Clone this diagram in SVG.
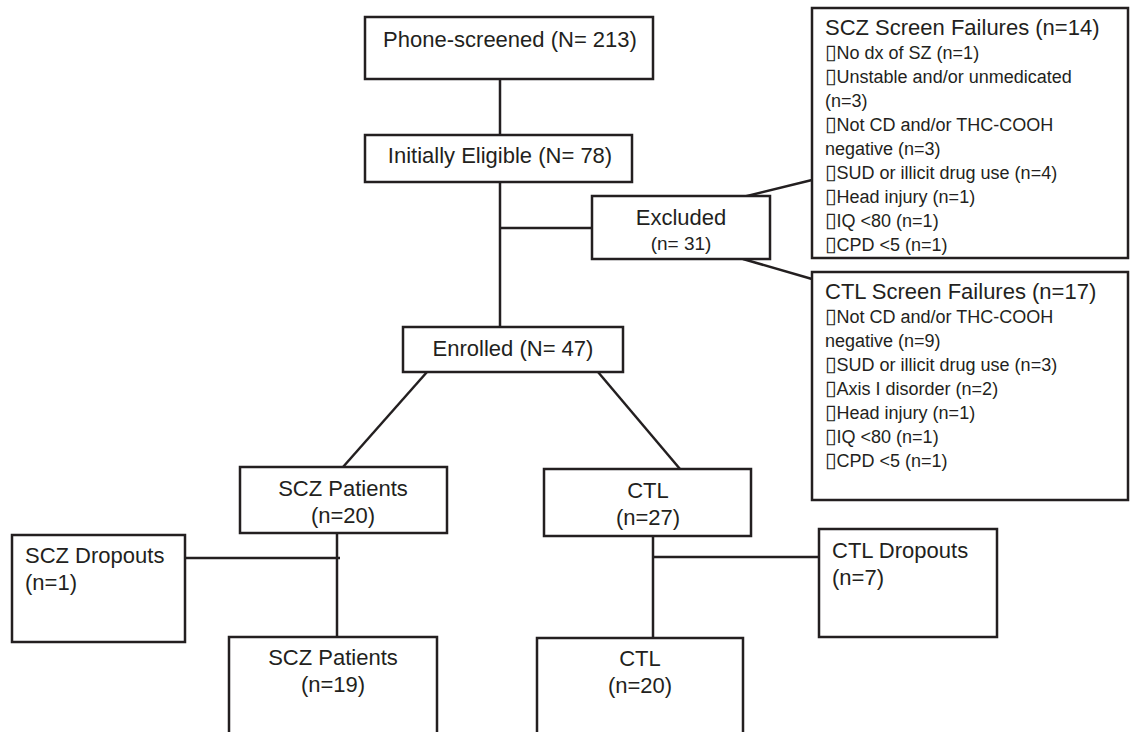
<svg xmlns="http://www.w3.org/2000/svg" width="1130" height="732" viewBox="0 0 1130 732">
<style>
.box{fill:#fff;stroke:#231f20;stroke-width:2.5}
.open{fill:none;stroke:#231f20;stroke-width:2.5}
.ln{stroke:#231f20;stroke-width:2.5;fill:none}
text{font-family:"Liberation Sans",Arial,sans-serif;fill:#231f20}
.t22{font-size:22px}
.t19{font-size:19px}
.t18{font-size:18px}
.mid{text-anchor:middle}
.b{font-family:"DejaVu Sans",sans-serif;font-size:21px}
</style>
<rect width="1130" height="732" fill="#fff"/>
<g id="connectors">
<line class="ln" x1="500" y1="79" x2="500" y2="135"/>
<line class="ln" x1="500" y1="182" x2="500" y2="327"/>
<line class="ln" x1="500" y1="228" x2="592" y2="228"/>
<line class="ln" x1="743" y1="197" x2="812" y2="180"/>
<line class="ln" x1="743" y1="259" x2="812" y2="279"/>
<line class="ln" x1="427" y1="372" x2="343" y2="467"/>
<line class="ln" x1="598" y1="372" x2="680" y2="469"/>
<line class="ln" x1="337" y1="533" x2="337" y2="637"/>
<line class="ln" x1="185" y1="558" x2="340" y2="558"/>
<line class="ln" x1="653" y1="536" x2="653" y2="638"/>
<line class="ln" x1="653" y1="557" x2="819" y2="557"/>
</g>
<g id="phone">
<rect class="box" x="365" y="17" width="288" height="62"/>
<text class="t22 mid" x="510" y="47">Phone-screened (N= 213)</text>
</g>
<g id="eligible">
<rect class="box" x="365" y="135" width="267" height="47"/>
<text class="t22 mid" x="500" y="163">Initially Eligible (N= 78)</text>
</g>
<g id="excluded">
<rect class="box" x="592" y="196" width="178" height="63"/>
<text class="t22 mid" x="681" y="225">Excluded</text>
<text class="t19 mid" x="681" y="250">(n= 31)</text>
</g>
<g id="scz-failures">
<rect class="box" x="812" y="8" width="316" height="250"/>
<text class="t22" x="825" y="35">SCZ Screen Failures (n=14)</text>
<text class="t18" x="825" y="59"><tspan class="b">▯</tspan>No dx of SZ (n=1)</text>
<text class="t18" x="825" y="83"><tspan class="b">▯</tspan>Unstable and/or unmedicated</text>
<text class="t18" x="825" y="107">(n=3)</text>
<text class="t18" x="825" y="131"><tspan class="b">▯</tspan>Not CD and/or THC-COOH</text>
<text class="t18" x="825" y="155">negative (n=3)</text>
<text class="t18" x="825" y="179"><tspan class="b">▯</tspan>SUD or illicit drug use (n=4)</text>
<text class="t18" x="825" y="203"><tspan class="b">▯</tspan>Head injury (n=1)</text>
<text class="t18" x="825" y="227"><tspan class="b">▯</tspan>IQ &lt;80 (n=1)</text>
<text class="t18" x="825" y="251"><tspan class="b">▯</tspan>CPD &lt;5 (n=1)</text>
</g>
<g id="ctl-failures">
<rect class="box" x="812" y="272" width="316" height="228"/>
<text class="t22" x="825" y="299">CTL Screen Failures (n=17)</text>
<text class="t18" x="825" y="323"><tspan class="b">▯</tspan>Not CD and/or THC-COOH</text>
<text class="t18" x="825" y="347">negative (n=9)</text>
<text class="t18" x="825" y="371"><tspan class="b">▯</tspan>SUD or illicit drug use (n=3)</text>
<text class="t18" x="825" y="395"><tspan class="b">▯</tspan>Axis I disorder (n=2)</text>
<text class="t18" x="825" y="419"><tspan class="b">▯</tspan>Head injury (n=1)</text>
<text class="t18" x="825" y="443"><tspan class="b">▯</tspan>IQ &lt;80 (n=1)</text>
<text class="t18" x="825" y="467"><tspan class="b">▯</tspan>CPD &lt;5 (n=1)</text>
</g>
<g id="enrolled">
<rect class="box" x="403" y="327" width="220" height="45"/>
<text class="t22 mid" x="513" y="356">Enrolled (N= 47)</text>
</g>
<g id="scz-patients">
<rect class="box" x="240" y="467" width="207" height="66"/>
<text class="t22 mid" x="343" y="496">SCZ Patients</text>
<text class="t22 mid" x="343" y="523">(n=20)</text>
</g>
<g id="ctl">
<rect class="box" x="544" y="469" width="207" height="67"/>
<text class="t22 mid" x="648" y="498">CTL</text>
<text class="t22 mid" x="648" y="525">(n=27)</text>
</g>
<g id="scz-dropouts">
<rect class="box" x="12" y="535" width="173" height="107"/>
<text class="t22" x="25" y="563">SCZ Dropouts</text>
<text class="t22" x="25" y="590">(n=1)</text>
</g>
<g id="ctl-dropouts">
<rect class="box" x="819" y="529" width="178" height="108"/>
<text class="t22" x="832" y="558">CTL Dropouts</text>
<text class="t22" x="832" y="585">(n=7)</text>
</g>
<g id="scz-final">
<path class="open" d="M229,734 V637 H437 V734"/>
<text class="t22 mid" x="333" y="665">SCZ Patients</text>
<text class="t22 mid" x="333" y="692">(n=19)</text>
</g>
<g id="ctl-final">
<path class="open" d="M537,734 V638 H743 V734"/>
<text class="t22 mid" x="640" y="666">CTL</text>
<text class="t22 mid" x="640" y="693">(n=20)</text>
</g>
</svg>
